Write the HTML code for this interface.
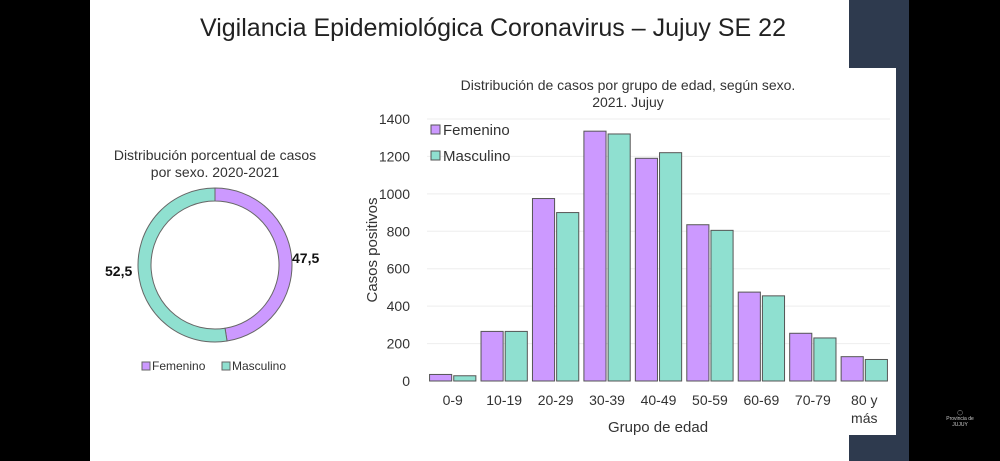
<!DOCTYPE html>
<html><head><meta charset="utf-8"><style>
body{margin:0;width:1000px;height:461px;background:#000;overflow:hidden;font-family:"Liberation Sans",sans-serif;position:relative}
.abs{position:absolute}
</style></head><body>
<div class="abs" style="left:849px;top:0;width:60px;height:461px;background:#2e3a4e"></div>
<div class="abs" style="left:90px;top:0;width:759px;height:461px;background:#fff"></div>
<div class="abs" style="left:849px;top:68px;width:47px;height:367px;background:#fff"></div>
<div class="abs" style="left:940px;top:410px;width:40px;height:30px;color:#ccc;font-size:5px;text-align:center">◯<br>Provincia de JUJUY</div>
<svg class="abs" style="left:0;top:0" width="1000" height="461">
<text x="493" y="36" text-anchor="middle" font-size="25" fill="#222">Vigilancia Epidemiológica Coronavirus – Jujuy SE 22</text>
<text x="215" y="160" text-anchor="middle" font-size="14" fill="#333">Distribución porcentual de casos</text>
<text x="215" y="177" text-anchor="middle" font-size="14" fill="#333">por sexo. 2020-2021</text>
<g id="donut"></g>
<text x="292" y="263" font-size="14" font-weight="bold" fill="#111">47,5</text>
<text x="105" y="276" font-size="14" font-weight="bold" fill="#111">52,5</text>
<rect x="142" y="362" width="8" height="8" fill="#cc99ff" stroke="#666"/>
<text x="152" y="370" font-size="12" fill="#333">Femenino</text>
<rect x="222" y="362" width="8" height="8" fill="#8fe0d0" stroke="#666"/>
<text x="232" y="370" font-size="12" fill="#333">Masculino</text>
<text x="628" y="90" text-anchor="middle" font-size="14" fill="#333">Distribución de casos por grupo de edad, según sexo.</text>
<text x="628" y="107" text-anchor="middle" font-size="14" fill="#333">2021. Jujuy</text>
<text transform="translate(377,250) rotate(-90)" text-anchor="middle" font-size="15" fill="#333">Casos positivos</text>
<text x="658" y="432" text-anchor="middle" font-size="15" fill="#333">Grupo de edad</text>
<g id="chart"></g>
<rect x="431" y="125" width="9" height="9" fill="#cc99ff" stroke="#555"/>
<text x="443" y="135" font-size="15" fill="#333">Femenino</text>
<rect x="431" y="151" width="9" height="9" fill="#8fe0d0" stroke="#555"/>
<text x="443" y="161" font-size="15" fill="#333">Masculino</text>
</svg>
<script>
const categories=["0-9","10-19","20-29","30-39","40-49","50-59","60-69","70-79","80 y|más"];
const femenino=[35,265,975,1335,1190,835,475,255,130];
const masculino=[28,265,900,1320,1220,805,455,230,115];
const yTicks=[0,200,400,600,800,1000,1200,1400];
const donutValues=[47.5,52.5];
const NS="http://www.w3.org/2000/svg";
const g=document.getElementById('chart');
const x0=427,x1=890,yb=381,yt=119,ymax=1400;
const y=v=>yb-(v/ymax)*(yb-yt);
const gw=(x1-x0)/categories.length;
const xg=i=>x0+i*gw;
function mk(t,a){const e=document.createElementNS(NS,t);for(const k in a)e.setAttribute(k,a[k]);g.appendChild(e);return e;}
yTicks.forEach(v=>{
 if(v>0){const l=mk('line',{x1:x0,x2:x1,y1:y(v),y2:y(v),stroke:'#eee'});
 
 }
 const t=mk('text',{x:410,y:y(v)+5,'text-anchor':'end','font-size':14,fill:'#333'});t.textContent=v;
 
 
});
categories.forEach((c,i)=>{
 const bw=gw*0.43,gap=gw*0.04;
 const bx=xg(i)+gw*0.05;
 const r1=mk('rect',{x:bx,y:y(femenino[i]),width:bw,height:yb-y(femenino[i]),fill:'#cc99ff',stroke:'#555','stroke-width':1});
 
 
 const r2=mk('rect',{x:bx+bw+gap,y:y(masculino[i]),width:bw,height:yb-y(masculino[i]),fill:'#8fe0d0',stroke:'#555','stroke-width':1});
 
 
 c.split('|').forEach((s,j)=>{
  const t=mk('text',{x:xg(i)+gw/2,y:405+j*18,'text-anchor':'middle','font-size':14,fill:'#333'});t.textContent=s;
  
  
 });
});
// donut
const dg=document.getElementById('donut');
const cx=215,cy=265,R=77,r=64;
const tot=donutValues.reduce((a,b)=>a+b,0);
let ang=-Math.PI/2;const cols=['#cc99ff','#8fe0d0'];
donutValues.forEach((v,i)=>{
 const a2=ang+v/tot*2*Math.PI;const lg=(a2-ang)>Math.PI?1:0;
 const p=(rad,a)=>[cx+rad*Math.cos(a),cy+rad*Math.sin(a)];
 const [ax,ay]=p(R,ang),[bx,by]=p(R,a2),[cx2,cy2]=p(r,a2),[dx,dy]=p(r,ang);
 const e=document.createElementNS(NS,'path');
 e.setAttribute('d',`M${ax},${ay}A${R},${R} 0 ${lg} 1 ${bx},${by}L${cx2},${cy2}A${r},${r} 0 ${lg} 0 ${dx},${dy}Z`);
 e.setAttribute('fill',cols[i]);e.setAttribute('stroke','#666');
 
 
 dg.appendChild(e);ang=a2;
});
</script>
</body></html>
